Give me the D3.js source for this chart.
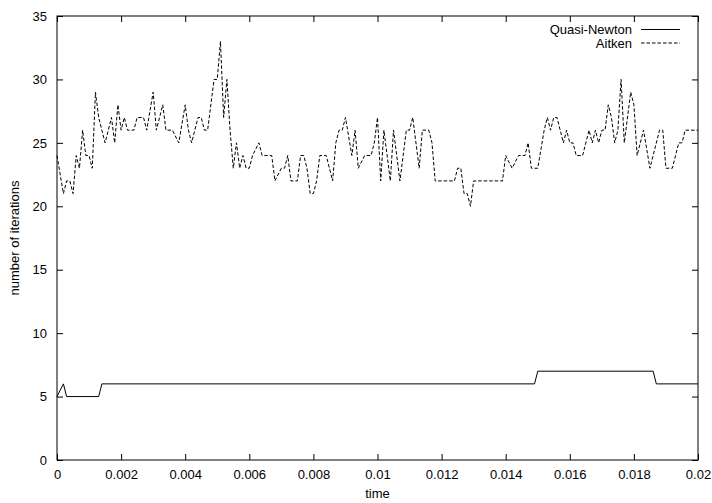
<!DOCTYPE html>
<html>
<head>
<meta charset="utf-8">
<script src="https://cdn.jsdelivr.net/npm/d3@7/dist/d3.min.js"></script>
<style>
  html, body { margin: 0; padding: 0; background: #fff; }
  svg { display: block; font-family: "Liberation Sans", Arial, Helvetica, sans-serif; }
</style>
</head>
<body>
<svg id="chart" width="712" height="503"></svg>
<script>
// ---- data ----
const seriesNames = ["Quasi-Newton", "Aitken"];

const qnTime = [0, 0.0002, 0.0003, 0.0013, 0.0014, 0.0149, 0.0150, 0.0186, 0.0187, 0.02];
const qnIter = [5, 6, 5, 5, 6, 6, 7, 7, 6, 6];

const aitkenTime = [
  0, 0.0002, 0.0003, 0.0004, 0.0005, 0.0006, 0.0007, 0.0008, 0.0009, 0.0010,
  0.0011, 0.0012, 0.0013, 0.0015, 0.0016, 0.0017, 0.0018, 0.0019, 0.0020, 0.0021,
  0.0022, 0.0024, 0.0025, 0.0027, 0.0028, 0.0030, 0.0031, 0.0033, 0.0034, 0.0036,
  0.0038, 0.0040, 0.0041, 0.0042, 0.0044, 0.0045, 0.0046, 0.0047, 0.0049, 0.0050,
  0.0051, 0.0052, 0.0053, 0.0054, 0.0055, 0.0056, 0.0057, 0.0058, 0.0059, 0.0060,
  0.0061, 0.0063, 0.0064, 0.0067, 0.0068, 0.0070, 0.0071, 0.0072, 0.0073, 0.0075,
  0.0076, 0.0077, 0.0078, 0.0079, 0.0080, 0.0081, 0.0082, 0.0084, 0.0086, 0.0087,
  0.0088, 0.0089, 0.0090, 0.0092, 0.0093, 0.0094, 0.0096, 0.0098, 0.0099, 0.0100,
  0.0101, 0.0102, 0.0104, 0.0105, 0.0107, 0.0109, 0.0110, 0.0111, 0.0113, 0.0114,
  0.0116, 0.0117, 0.0118, 0.0124, 0.0125, 0.0126, 0.0127, 0.0128, 0.0129, 0.0130,
  0.0139, 0.0140, 0.0142, 0.0144, 0.0146, 0.0147, 0.0148, 0.0150, 0.0152, 0.0153,
  0.0154, 0.0155, 0.0156, 0.0158, 0.0159, 0.0160, 0.0161, 0.0162, 0.0164, 0.0166,
  0.0167, 0.0168, 0.0169, 0.0170, 0.0171, 0.0172, 0.0173, 0.0174, 0.0175, 0.0176,
  0.0177, 0.0179, 0.0180, 0.0181, 0.0183, 0.0185, 0.0188, 0.0189, 0.0190, 0.0192,
  0.0194, 0.0195, 0.0196, 0.0200
];
const aitkenIter = [
  24, 21, 22, 22, 21, 24, 23, 26, 24, 24,
  23, 29, 27, 25, 26, 27, 25, 28, 26, 27,
  26, 26, 27, 27, 26, 29, 26, 28, 26, 26,
  25, 28, 26, 25, 27, 27, 26, 26, 30, 30,
  33, 27, 30, 26, 23, 25, 23, 24, 23, 23,
  24, 25, 24, 24, 22, 23, 23, 24, 22, 22,
  24, 24, 23, 21, 21, 22, 24, 24, 22, 25,
  26, 26, 27, 24, 26, 23, 24, 24, 25, 27,
  22, 26, 22, 26, 22, 26, 26, 27, 23, 26,
  26, 25, 22, 22, 23, 23, 21, 21, 20, 22,
  22, 24, 23, 24, 24, 25, 23, 23, 26, 27,
  26, 27, 27, 25, 26, 25, 25, 24, 24, 26,
  25, 26, 25, 26, 26, 28, 27, 25, 26, 30,
  25, 29, 28, 24, 26, 23, 26, 26, 23, 23,
  25, 25, 26, 26
];

const xTickValues = [0, 0.002, 0.004, 0.006, 0.008, 0.01, 0.012, 0.014, 0.016, 0.018, 0.02];
const xTickLabels = ["0", "0.002", "0.004", "0.006", "0.008", "0.01", "0.012", "0.014", "0.016", "0.018", "0.02"];
const yTickValues = [0, 5, 10, 15, 20, 25, 30, 35];
const yTickLabels = ["0", "5", "10", "15", "20", "25", "30", "35"];

const xTitle = "time";
const yTitle = "number of iterations";

// ---- layout ----
const W = 712, H = 503;
const m = { left: 57, right: 14, top: 16, bottom: 43 };
const svg = d3.select("#chart");

const x = d3.scaleLinear().domain([0, 0.02]).range([m.left, W - m.right]);
const y = d3.scaleLinear().domain([0, 35]).range([H - m.bottom, m.top]);

const fontSize = 13;
const tick = 6;

// bottom axis
const gx = svg.append("g").attr("transform", `translate(0,${H - m.bottom})`)
  .call(d3.axisBottom(x).tickValues(xTickValues)
    .tickFormat((d, i) => xTickLabels[i]).tickSizeInner(-tick).tickSizeOuter(0).tickPadding(10));
// top mirror
const gxt = svg.append("g").attr("transform", `translate(0,${m.top})`)
  .call(d3.axisTop(x).tickValues(xTickValues).tickFormat("").tickSizeInner(-tick).tickSizeOuter(0));
// left axis
const gy = svg.append("g").attr("transform", `translate(${m.left},0)`)
  .call(d3.axisLeft(y).tickValues(yTickValues)
    .tickFormat((d, i) => yTickLabels[i]).tickSizeInner(-tick).tickSizeOuter(0).tickPadding(10));
// right mirror
const gyr = svg.append("g").attr("transform", `translate(${W - m.right},0)`)
  .call(d3.axisRight(y).tickValues(yTickValues).tickFormat("").tickSizeInner(-tick).tickSizeOuter(0));

[gx, gxt, gy, gyr].forEach(g => {
  g.select(".domain").remove();
  g.selectAll("line").attr("stroke", "#000").attr("stroke-width", 1);
  g.selectAll("text").attr("fill", "#000").style("font-size", fontSize + "px")
    .style("font-family", '"Liberation Sans", Arial, sans-serif');
});

// border
svg.append("rect")
  .attr("x", m.left).attr("y", m.top)
  .attr("width", W - m.left - m.right).attr("height", H - m.top - m.bottom)
  .attr("fill", "none").attr("stroke", "#000").attr("stroke-width", 1);

// lines
const line = d3.line().x(d => x(d[0])).y(d => y(d[1]));
const qnData = qnTime.map((t, i) => [t, qnIter[i]]);
const aitData = aitkenTime.map((t, i) => [t, aitkenIter[i]]);

svg.append("path").datum(qnData).attr("d", line)
  .attr("fill", "none").attr("stroke", "#000").attr("stroke-width", 1);
svg.append("path").datum(aitData).attr("d", line)
  .attr("fill", "none").attr("stroke", "#000").attr("stroke-width", 1)
  .attr("stroke-dasharray", "3.5,2");

// titles
svg.append("text").attr("x", (m.left + W - m.right) / 2).attr("y", 498)
  .attr("text-anchor", "middle").style("font-size", fontSize + "px").text(xTitle);
svg.append("text").attr("transform", `translate(19,${(m.top + H - m.bottom) / 2}) rotate(-90)`)
  .attr("text-anchor", "middle").style("font-size", fontSize + "px").text(yTitle);

// legend
const legend = svg.append("g");
const legendRows = [
  { name: seriesNames[0], dash: null, yy: 29.5 },
  { name: seriesNames[1], dash: "3.5,2", yy: 43 }
];
legendRows.forEach(r => {
  legend.append("text").attr("x", 632).attr("y", r.yy).attr("dy", "0.35em")
    .attr("text-anchor", "end").style("font-size", fontSize + "px").text(r.name);
  legend.append("line").attr("x1", 641).attr("x2", 680).attr("y1", r.yy).attr("y2", r.yy)
    .attr("stroke", "#000").attr("stroke-width", 1)
    .attr("stroke-dasharray", r.dash);
});
</script>
</body>
</html>
